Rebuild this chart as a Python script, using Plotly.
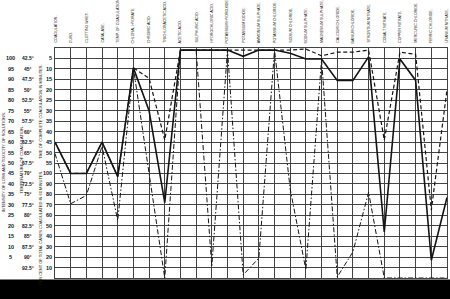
import plotly.graph_objects as go

W, H = 450, 299

# ---- data (rows counted from the top grid line, 0..22) ----
columns = [
    "COAGULATION.", "CURD.", "CLOTTING WHEY.", "CATALASE.", "TEMP. OF COAGULATION",
    "CHLORAL HYDRATE.", "CHROMIC ACID.", "TRICHLORACETIC ACID.", "ACETIC ACID.",
    "SULPHURIC ACID.", "HYDROCHLORIC ACID.", "POTASSIUM HYDROXIDE.", "POTASSIUM IODIDE.",
    "AMMONIUM SULPHATE.", "POTASSIUM CHLORIDE.", "SODIUM CHLORIDE.",
    "SODIUM SULPHATE.", "MAGNESIUM SULPHATE.", "CALCIUM CHLORIDE.", "BARIUM CHLORIDE.",
    "STRONTIUM NITRATE.", "COBALT NITRATE.", "COPPER NITRATE.", "MERCURIC CHLORIDE.",
    "FERRIC CHLORIDE.", "URANIUM NITRATE.",
]

solid_rows = [9.0, 12.0, 12.0, 9.0, 12.3, 1.9, 6.0, 14.8, 0.2, 0.2, 0.2, 0.2, 0.8,
              0.2, 0.2, 0.5, 1.05, 1.05, 3.1, 3.1, 0.85, 17.6, 1.05, 3.1, 20.3, 14.3]
dashed_rows = [9.0, 12.0, 12.0, 9.0, 12.3, 1.9, 2.9, 8.8, 0.2, 0.2, 0.2, 0.2, 0.2,
               0.2, 0.2, 0.2, 0.1, 0.75, 0.4, 0.4, 0.2, 8.8, 0.4, 0.6, 15.5, 4.0]
dashdot_rows = [10.1, 14.9, 14.1, 9.4, 16.5, 1.9, 12.0, 22.0, 0.2, 0.2, 20.9, 0.2, 21.7,
                20.1, 0.2, 13.5, 21.2, 1.1, 21.9, 19.5, 13.8, 22.0, 22.0, 22.0, 22.0, 22.0]

loss_rows = list(range(1, 21))
loss_labels = ["100", "95", "90", "85", "80", "75", "70", "65", "60", "55",
               "50", "45", "40", "35", "30", "25", "20", "15", "10", "5"]
temp_rows = list(range(1, 22))
temp_labels = ["42.5°", "45°", "47.5°", "50°", "52.5°", "55°", "57.5°", "60°", "62.5°",
               "65°", "67.5°", "70°", "72.5°", "75°", "77.5°", "80°", "82.5°", "85°",
               "87.5°", "90°", "92.5°"]
time_rows = list(range(1, 22))
time_labels = ["5", "10", "15", "20", "25", "30", "35", "40", "45", "50", "55",
               "100", "90", "80", "70", "60", "50", "40", "30", "20", "10"]

# ---- layout geometry (pixels) ----
X0, X1 = 55, 447
Y_TOP, Y_BOT = 48, 278
NCOL = len(columns) - 1
NROW = 22

def px_x(p):
    return p / W

def px_y(p):
    return (H - p) / H

FONT = "Liberation Sans Narrow, Liberation Sans, DejaVu Sans, sans-serif"
INK = "#141414"
GRID = "#434343"

fig = go.Figure()
cols_idx = list(range(len(columns)))

fig.add_trace(go.Scatter(x=cols_idx, y=dashdot_rows, mode="lines",
                         line=dict(color=INK, width=1.0, dash="5px,2px,1.5px,2px"),
                         hoverinfo="skip", showlegend=False))
fig.add_trace(go.Scatter(x=cols_idx, y=dashed_rows, mode="lines",
                         line=dict(color=INK, width=1.2, dash="4px,2.5px"),
                         hoverinfo="skip", showlegend=False))
fig.add_trace(go.Scatter(x=cols_idx, y=solid_rows, mode="lines",
                         line=dict(color=INK, width=1.6),
                         hoverinfo="skip", showlegend=False))

fig.update_layout(
    width=W, height=H,
    margin=dict(l=0, r=0, t=0, b=0),
    paper_bgcolor="white", plot_bgcolor="white",
    showlegend=False,
    xaxis=dict(domain=[px_x(X0), px_x(X1)], range=[0, NCOL], dtick=1, tick0=0,
               showgrid=True, gridcolor=GRID, gridwidth=1, zeroline=False,
               showticklabels=False, ticks="", showline=True, mirror=True,
               linecolor=GRID, linewidth=1, fixedrange=True),
    yaxis=dict(domain=[px_y(Y_BOT), px_y(Y_TOP)], range=[NROW, 0], dtick=1, tick0=0,
               showgrid=True, gridcolor=GRID, gridwidth=1, zeroline=False,
               showticklabels=False, ticks="", showline=True, mirror=True,
               linecolor=GRID, linewidth=1, fixedrange=True),
)

ann = []
# column headings (rotated)
for i, name in enumerate(columns):
    ann.append(dict(x=i, xref="x", y=px_y(45), yref="paper", text=name,
                    textangle=-90, xanchor="center", yanchor="bottom", showarrow=False,
                    font=dict(family=FONT, size=3.6, color=INK)))
# left scales
for r, t in zip(loss_rows, loss_labels):
    ann.append(dict(x=px_x(10.5), xref="paper", y=r, yref="y", text=t, showarrow=False,
                    xanchor="center", yanchor="middle",
                    font=dict(family=FONT, size=5.5, color=INK, weight="bold")))
for r, t in zip(temp_rows, temp_labels):
    ann.append(dict(x=px_x(28), xref="paper", y=r, yref="y", text=t, showarrow=False,
                    xanchor="center", yanchor="middle",
                    font=dict(family=FONT, size=5, color=INK, weight="bold")))
for r, t in zip(time_rows, time_labels):
    ann.append(dict(x=px_x(53.5), xref="paper", y=r, yref="y", text=t, showarrow=False,
                    xanchor="right", yanchor="middle",
                    font=dict(family=FONT, size=5.5, color=INK, weight="bold")))
# rotated scale titles
titles = [
    ("INTENSITY OF LOSS AND TOXICITY OF SOLUTIONS.", 3, 162),
    ("TEMPERATURE OF COAGULATION.", 20.5, 160),
    ("TIME OF COMPLETE COAGULATION IN MINUTES.", 41, 112),
    ("PER CENT OF TOTAL CASES COAGULATED IN 60 MINUTES.", 41, 228),
]
for text, xp, yp in titles:
    ann.append(dict(x=px_x(xp), xref="paper", y=px_y(yp), yref="paper", text=text,
                    textangle=-90, showarrow=False, xanchor="center", yanchor="middle",
                    font=dict(family=FONT, size=4, color=INK)))
fig.update_layout(annotations=ann)

# dark strip along the bottom of the scan
fig.add_shape(type="rect", xref="paper", yref="paper", x0=0, x1=1,
              y0=0, y1=px_y(279.5), fillcolor="black", line=dict(width=0), layer="above")

fig.write_html("out.html")
